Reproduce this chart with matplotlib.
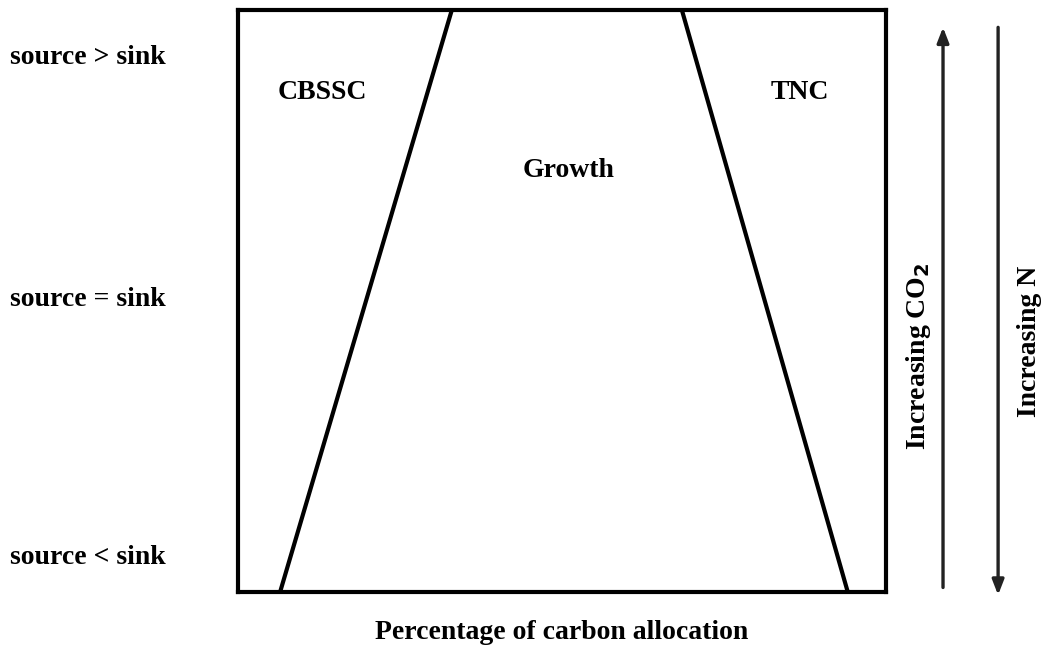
import matplotlib.pyplot as plt

# Conceptual diagram: carbon allocation between CBSSC, growth and TNC
row_labels = ["source > sink", "source = sink", "source < sink"]
row_levels = [0.919, 0.502, 0.060]

region_labels = ["CBSSC", "Growth", "TNC"]
region_x = [13.0, 51.0, 86.7]
region_y = [0.859, 0.725, 0.859]

# x positions (% allocation) of the two boundaries, bottom and top
cbssc_bound_x = [6.5, 33.0]
tnc_bound_x = [94.1, 68.5]
bound_y = [0.0, 1.0]

plt.rcParams["font.family"] = ["Liberation Serif", "DejaVu Serif"]
FS = 20

fig = plt.figure(figsize=(10.53, 6.55), dpi=100)
ax = fig.add_axes([0.226, 0.0962, 0.6154, 0.8885])
ax.set_xlim(0, 100)
ax.set_ylim(0, 1)
ax.set_xticks([])
ax.set_yticks([])
for sp in ax.spines.values():
    sp.set_linewidth(3)

ax.plot(cbssc_bound_x, bound_y, color="black", lw=3, solid_capstyle="butt")
ax.plot(tnc_bound_x, bound_y, color="black", lw=3, solid_capstyle="butt")

for lab, x, y in zip(region_labels, region_x, region_y):
    ax.text(x, y, lab, ha="center", va="center", fontsize=FS, fontweight="bold")

for lab, y in zip(row_labels, row_levels):
    ax.text(-0.352, y, lab, transform=ax.transAxes, ha="left", va="center",
            fontsize=FS, fontweight="bold")

ax.set_xlabel("Percentage of carbon allocation", fontsize=FS, fontweight="bold",
              labelpad=20)

# side arrows
arrow_style = dict(arrowstyle="-|>,head_length=0.9,head_width=0.35",
                   color="#222222", lw=2.4)
ax.annotate("", xy=(1.088, 0.975), xytext=(1.088, 0.003), xycoords="axes fraction",
            arrowprops=arrow_style, annotation_clip=False)
ax.annotate("", xy=(1.173, -0.01), xytext=(1.173, 0.975), xycoords="axes fraction",
            arrowprops=arrow_style, annotation_clip=False)
ax.text(1.05, 0.405, "Increasing CO$_{\\mathbf{2}}$", transform=ax.transAxes,
        rotation=90, ha="center", va="center", fontsize=FS, fontweight="bold")
ax.text(1.222, 0.43, "Increasing N", transform=ax.transAxes, rotation=90,
        ha="center", va="center", fontsize=FS, fontweight="bold")

fig.savefig("out.png", dpi=100)
